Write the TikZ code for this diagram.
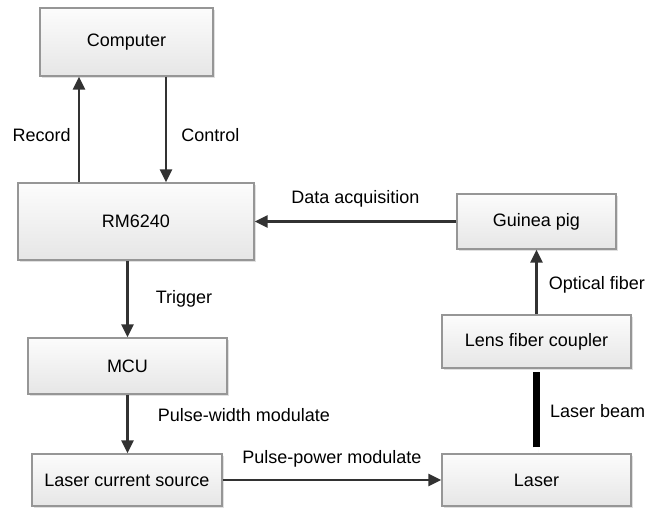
\documentclass[tikz,border=0pt]{standalone}
\usepackage{fontspec}
\setmainfont{Liberation Sans}
\usepackage{tikz}
\usetikzlibrary{arrows.meta,shadows}
\definecolor{boxline}{RGB}{150,150,150}
\definecolor{boxtop}{RGB}{252,252,252}
\definecolor{boxbot}{RGB}{230,230,230}
\definecolor{arrowgray}{RGB}{50,50,50}
\tikzstyle{blk}=[rectangle,draw=boxline,line width=1.2pt,top color=boxtop,bottom color=boxbot,
                 drop shadow={shadow xshift=2pt,shadow yshift=-2pt,fill=black!12,opacity=1},
                 align=center,font=\fontsize{18}{22}\selectfont]
\tikzstyle{arr}=[-{Triangle[length=13pt,width=12pt]},line width=2.6pt,draw=arrowgray]
\tikzstyle{lbl}=[font=\fontsize{18}{22}\selectfont,inner sep=0pt]

\begin{document}
\begin{tikzpicture}[x=1pt,y=-1pt]
      \useasboundingbox (0,0) rectangle (659,508);
      \node[blk,minimum width=173pt,minimum height=68pt] (comp) at (126.5,42) {Computer};
      \node[blk,minimum width=236pt,minimum height=77pt] (rm) at (136,221.5) {RM6240};
      \node[blk,minimum width=159pt,minimum height=55pt] (pig) at (536.5,221.5) {Guinea pig};
      \node[blk,minimum width=189pt,minimum height=53pt] (lens) at (536.5,341.5) {Lens fiber coupler};
      \node[blk,minimum width=189pt,minimum height=52pt] (laser) at (536.5,480) {Laser};
      \node[blk,minimum width=199pt,minimum height=56pt] (mcu) at (127.5,366) {MCU};
      \node[blk,minimum width=190pt,minimum height=52pt] (lcs) at (127,480) {Laser current source};
      % computer link
      \draw[arr] (rm.north -| 79,0) -- node[lbl,left=7pt,pos=0.45] {Record} (comp.south -| 79,0);
      \draw[arr] (comp.south -| 166,0) -- node[lbl,right=14pt,pos=0.55] {Control} (rm.north -| 166,0);
      % signal chain
      \draw[arr] (pig.west) -- node[lbl,above=13pt] {Data acquisition} (rm.east);
      \draw[arr] (rm.south -| mcu.north) -- node[lbl,right=27pt] {Trigger} (mcu.north);
      \draw[arr] (mcu.south) -- node[lbl,right=29pt,pos=0.35] {Pulse-width modulate} (mcu.south |- lcs.north);
      \draw[arr] (lcs.east) -- node[lbl,above=11pt] {Pulse-power modulate} (laser.west);
      \draw[arr] (lens.north) -- node[lbl,right=11pt,pos=0.45] {Optical fiber} (pig.south);
      % beam
      \draw[line width=7pt,shorten <=6pt,shorten >=3pt,
            drop shadow={shadow xshift=2pt,shadow yshift=0pt,fill=black!12,opacity=1}]
            (laser.north) -- node[lbl,right=10pt] {Laser beam} (lens.south);
    \end{tikzpicture}
\end{document}
